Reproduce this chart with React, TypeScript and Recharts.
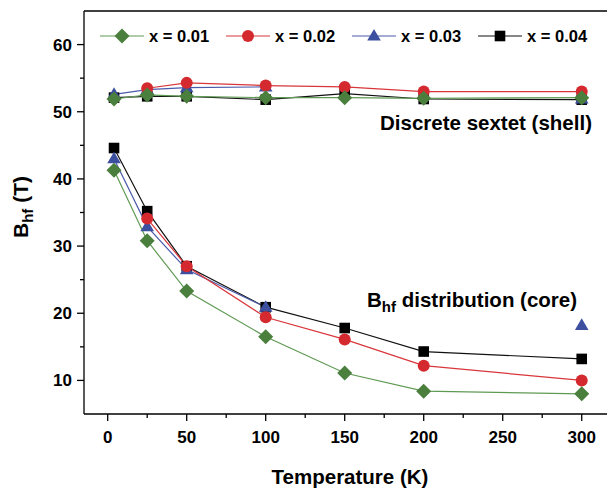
import React from 'react';
import { LineChart, Line, XAxis, YAxis, ReferenceLine, Legend, Customized } from 'recharts';

const TEMPS = [4, 25, 50, 100, 150, 200, 300];

// discrete sextet (shell)
const SHELL_X001 = [51.9, 52.5, 52.3, 52.1, 52.1, 52.0, 52.1];
const SHELL_X002 = [null, 53.5, 54.3, 53.9, 53.7, 53.0, 53.0];
const SHELL_X003 = [52.6, 53.3, 53.6, 53.7, null, null, 51.9];
const SHELL_X004 = [52.1, 52.3, 52.3, 51.8, 52.7, 51.9, 51.8];

// Bhf distribution (core)
const CORE_X001 = [41.3, 30.8, 23.3, 16.5, 11.1, 8.4, 8.0];
const CORE_X002 = [null, 34.1, 27.0, 19.4, 16.1, 12.2, 10.0];
const CORE_X003 = [43.0, 32.9, 26.5, 20.9, null, null, 18.2];
const CORE_X004 = [44.6, 35.2, 27.0, 20.9, 17.8, 14.3, 13.2];

const X_TICKS = [0, 25, 50, 75, 100, 125, 150, 175, 200, 225, 250, 275, 300];
const Y_TICKS = [10, 15, 20, 25, 30, 35, 40, 45, 50, 55, 60];

const SERIES = [
  { name: 'x = 0.01', fill: '#4a7f3d', stroke: '#5f9a53', shape: 'diamond', shell: SHELL_X001, core: CORE_X001 },
  { name: 'x = 0.02', fill: '#d42a2f', stroke: '#d8363a', shape: 'circle', shell: SHELL_X002, core: CORE_X002 },
  { name: 'x = 0.03', fill: '#3d4f9f', stroke: '#4a5bab', shape: 'triangle', shell: SHELL_X003, core: CORE_X003 },
  { name: 'x = 0.04', fill: '#000000', stroke: '#111111', shape: 'square', shell: SHELL_X004, core: CORE_X004 },
];

const FONT = '"Liberation Sans", Arial, sans-serif';

const toPoints = (vals: (number | null)[]) => TEMPS.map((t, i) => ({ t, v: vals[i] }));

const Marker = ({ cx, cy, shape, fill }: any) => {
  if (shape === 'diamond') {
    const r = 7.5;
    return <polygon points={`${cx},${cy - r} ${cx + r},${cy} ${cx},${cy + r} ${cx - r},${cy}`} fill={fill} />;
  }
  if (shape === 'circle') return <circle cx={cx} cy={cy} r={6} fill={fill} />;
  if (shape === 'triangle') {
    return <polygon points={`${cx},${cy - 7} ${cx + 6.8},${cy + 4.6} ${cx - 6.8},${cy + 4.6}`} fill={fill} />;
  }
  return <rect x={cx - 5.3} y={cy - 5.3} width={10.6} height={10.6} fill={fill} />;
};

const dotFor = (s: any) => (p: any) => {
  if (p.cx == null || p.cy == null || p.value == null) return <g key={p.index} />;
  return <Marker key={p.index} cx={p.cx} cy={p.cy} shape={s.shape} fill={s.fill} />;
};

const XTick = ({ x, y, payload }: any) => {
  const major = payload.value % 50 === 0;
  return (
    <g>
      <line x1={x} x2={x} y1={y} y2={y + (major ? 7 : 4)} stroke="#000" strokeWidth={1.3} />
      {major && (
        <text x={x} y={y + 29} textAnchor="middle" fontFamily={FONT} fontWeight="bold" fontSize={17} fill="#000">
          {payload.value}
        </text>
      )}
    </g>
  );
};

const YTick = ({ x, y, payload }: any) => {
  const major = payload.value % 10 === 0;
  return (
    <g>
      <line x1={x - (major ? 7 : 4)} x2={x} y1={y} y2={y} stroke="#000" strokeWidth={1.3} />
      {major && (
        <text x={x - 12} y={y + 6} textAnchor="end" fontFamily={FONT} fontWeight="bold" fontSize={17} fill="#000">
          {payload.value}
        </text>
      )}
    </g>
  );
};

const LegendContent = () => (
  <svg width={607} height={60} style={{ position: 'absolute', top: 0, left: 0, overflow: 'visible' }}>
    {SERIES.map((s, i) => {
      const x0 = 100 + i * 126;
      return (
        <g key={s.name}>
          <line x1={x0} x2={x0 + 44} y1={36} y2={36} stroke={s.stroke} strokeWidth={1.2} />
          <Marker cx={x0 + 22} cy={36} shape={s.shape} fill={s.fill} />
          <text x={x0 + 49} y={42} fontFamily={FONT} fontWeight="bold" fontSize={16.5} fill="#000">
            {s.name}
          </text>
        </g>
      );
    })}
  </svg>
);

const Annotations = () => (
  <g fontFamily={FONT} fontWeight="bold" fill="#000">
    <text x={592} y={130} textAnchor="end" fontSize={20.5}>Discrete sextet (shell)</text>
    <text x={367} y={307} fontSize={20.5}>
      B<tspan fontSize={15} dy={5}>hf</tspan>
      <tspan dy={-5}> distribution (core)</tspan>
    </text>
    <text x={350} y={484} textAnchor="middle" fontSize={20.5}>Temperature (K)</text>
    <text transform="translate(28,207) rotate(-90)" textAnchor="middle" fontSize={21}>
      B<tspan fontSize={15} dy={5}>hf</tspan>
      <tspan dy={-5}> (T)</tspan>
    </text>
  </g>
);

export default function App() {
  const drawOrder = [...SERIES].reverse();
  return (
    <div style={{ position: 'absolute', left: 0, top: 0, width: 607, height: 488, background: '#fff' }}>
      <LineChart width={607} height={488} margin={{ top: 11, right: 0, bottom: 0, left: 0 }}>
        <XAxis
          type="number"
          dataKey="t"
          domain={[-15, 316]}
          allowDataOverflow
          ticks={X_TICKS}
          interval={0}
          height={74}
          tickSize={0}
          tickMargin={0}
          tickLine={false}
          tick={<XTick />}
          axisLine={{ stroke: '#000', strokeWidth: 1.3 }}
        />
        <YAxis
          type="number"
          domain={[5, 65]}
          allowDataOverflow
          ticks={Y_TICKS}
          interval={0}
          width={84}
          tickSize={0}
          tickMargin={0}
          tickLine={false}
          tick={<YTick />}
          axisLine={{ stroke: '#000', strokeWidth: 1.3 }}
        />
        <ReferenceLine y={65} stroke="#000" strokeWidth={1.3} />
        {drawOrder.map((s) => (
          <Line
            key={s.name + '-shell'}
            data={toPoints(s.shell)}
            dataKey="v"
            type="linear"
            stroke={s.stroke}
            strokeWidth={1.2}
            dot={dotFor(s)}
            activeDot={false}
            isAnimationActive={false}
          />
        ))}
        {drawOrder.map((s) => (
          <Line
            key={s.name + '-core'}
            data={toPoints(s.core)}
            dataKey="v"
            type="linear"
            stroke={s.stroke}
            strokeWidth={1.2}
            dot={dotFor(s)}
            activeDot={false}
            isAnimationActive={false}
          />
        ))}
        <Legend
          verticalAlign="top"
          align="left"
          wrapperStyle={{ position: 'absolute', top: 0, left: 0, width: 607, height: 0 }}
          content={<LegendContent />}
        />
        <Customized component={<Annotations />} />
      </LineChart>
    </div>
  );
}
